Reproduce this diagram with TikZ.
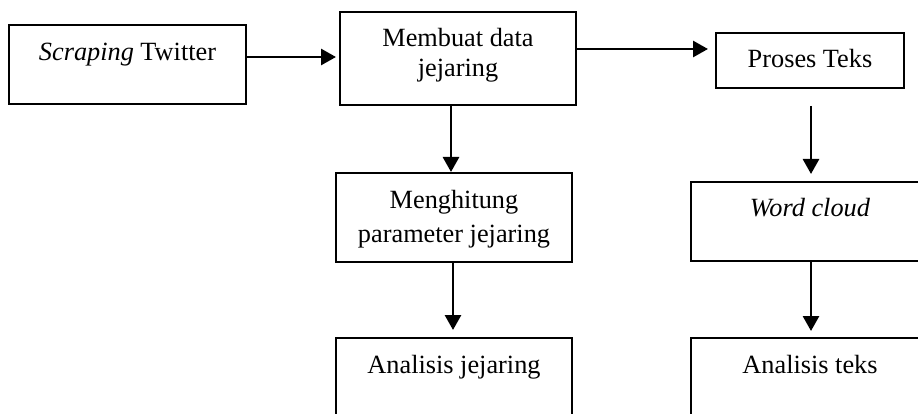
\documentclass[tikz,border=0pt]{standalone}
\usepackage{fontspec}
\setmainfont{Liberation Serif}
\usetikzlibrary{arrows.meta}
\begin{document}
\begin{tikzpicture}[x=1pt,y=-1pt,
  box/.style={draw=black, line width=1.2pt, rectangle, inner sep=0pt, outer sep=0pt,
    anchor=north west, text height=35pt, font=\fontsize{26.3}{30}\selectfont},
  arr/.style={line width=2.8pt, -{Triangle[length=15pt,width=16pt]}}]
\clip (0,0) rectangle (918,414);
\fill[white] (0,0) rectangle (918,414);
\node[box, minimum width=237pt, text height=36pt, text depth=43pt] (b1) at (9,25)
  {\textit{Scraping} Twitter};
\node[box, minimum width=236pt, text depth=58pt] (b2) at (340,12)
  {\begin{tabular}[t]{@{}c@{}}Membuat data\\ jejaring\end{tabular}};
\node[box, minimum width=188pt, text depth=20pt] (b3) at (716,33)
  {Proses Teks};
\node[box, minimum width=236pt, text depth=54pt, font=\fontsize{26.3}{34.5}\selectfont] (b4) at (336,173)
  {\begin{tabular}[t]{@{}c@{}}Menghitung\\ parameter jejaring\end{tabular}};
\node[box, minimum width=238pt, text depth=44pt] (b5) at (691,182)
  {\textit{Word cloud}};
\node[box, minimum width=236pt, text depth=100pt] (b6) at (336,338)
  {Analisis jejaring};
\node[box, minimum width=238pt, text depth=100pt] (b7) at (691,338)
  {Analisis teks};
\draw[arr, shorten >=4pt] (b1.east |- 0,57) -- (b2.west |- 0,57);
\draw[arr, shorten >=8pt] (b2.east |- 0,49) -- (b3.west |- 0,49);
\draw[arr, shorten >=1pt] (b2.south -| 451,0) -- (b4.north -| 451,0);
\draw[arr, shorten <=18pt, shorten >=8pt] (b3.south -| 811,0) -- (b5.north -| 811,0);
\draw[arr, shorten >=8pt] (b4.south -| 453,0) -- (b6.north -| 453,0);
\draw[arr, shorten >=7pt] (b5.south -| 811,0) -- (b7.north -| 811,0);
\end{tikzpicture}
\end{document}
